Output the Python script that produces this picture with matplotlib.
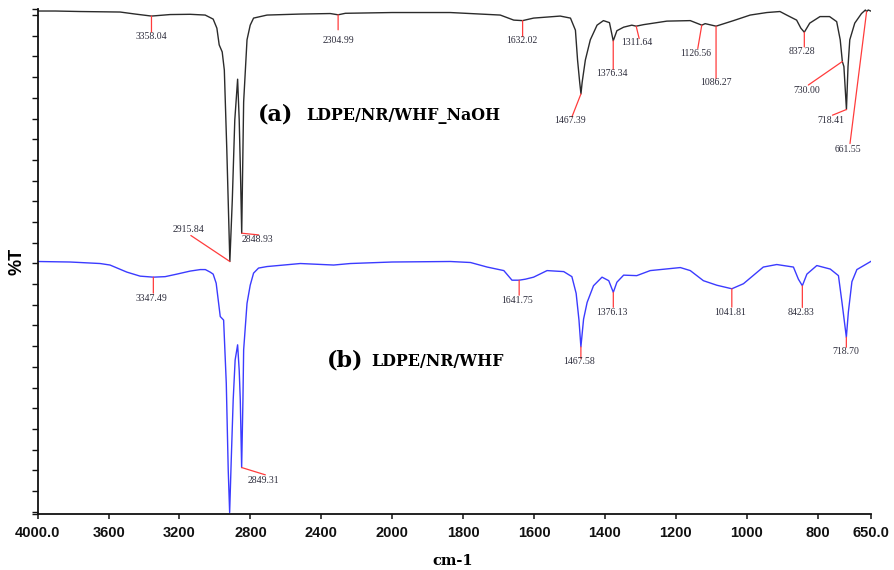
import numpy as np
import matplotlib
matplotlib.use("Agg")
import matplotlib.pyplot as plt

# ---- FTIR spectra (wavenumber in cm-1, transmittance on a stacked %T scale) ----
wn_a = [4000, 3900, 3761, 3535, 3450, 3358.04, 3253, 3140, 3055, 3010, 2989, 2976,
        2959, 2947, 2933, 2915.84, 2902, 2888, 2872, 2863, 2855, 2848.93, 2838, 2819,
        2801, 2782, 2706, 2518, 2349, 2304.99, 2264, 2000, 1836, 1695, 1657, 1632.02,
        1601, 1526, 1497, 1483, 1477, 1471, 1467.39, 1464, 1455, 1441, 1422, 1404,
        1387, 1376.34, 1366, 1347, 1324, 1311.64, 1291, 1225, 1159, 1126.56, 1117,
        1086.27, 1037, 990, 943, 906, 887, 859, 847, 837.28, 822, 793, 766, 746, 736,
        730.00, 725.6, 718.41, 714, 709, 695, 676, 665, 661.55, 657, 650]
t_a = [99.6, 99.6, 99.5, 99.4, 99.0, 98.6, 98.9, 98.95, 98.8, 98.0, 96.2, 92.9,
       91.5, 87.9, 72.1, 50.0, 62.2, 78.0, 86.1, 78.0, 66.1, 55.6, 81.6, 93.9,
       96.8, 98.2, 98.8, 99.0, 99.1, 98.85, 99.15, 99.3, 99.3, 98.8, 97.8, 97.7,
       98.2, 98.6, 98.2, 95.8, 89.9, 85.5, 83.2, 85.5, 89.9, 93.9, 96.8, 97.7,
       97.3, 93.7, 95.7, 96.4, 96.8, 96.6, 96.9, 97.6, 97.7, 96.8, 97.1,
       96.6, 97.7, 98.8, 99.3, 99.5, 98.8, 97.8, 96.2, 95.4, 97.2, 98.5, 98.5, 97.5, 93.9,
       89.6, 88.6, 80.1, 88.6, 93.9, 97.2, 99.1, 99.8, 99.5, 99.8, 99.6]

wn_b = [4000, 3818, 3761, 3648, 3592, 3497, 3422, 3347.49, 3281, 3215, 3140, 3083,
        3054, 3027, 3010, 2993, 2970, 2951, 2936,
        2925, 2917, 2908, 2897, 2886, 2872, 2863, 2857, 2849.31, 2842, 2838, 2819,
        2801, 2782, 2754, 2706, 2612, 2518, 2330, 2236, 2000, 1836, 1779, 1732, 1685,
        1662, 1641.75, 1624, 1601, 1563, 1516, 1493, 1481, 1473, 1467.58, 1460, 1450,
        1432, 1408, 1389, 1376.13, 1366, 1347, 1310, 1272, 1187, 1159, 1122, 1084,
        1041.81, 1009, 953, 915, 868, 854, 842.83, 830, 802, 764, 741, 731, 718.70,
        713, 703, 689, 650]
t_b = [50.0, 49.9, 49.8, 49.6, 49.3, 47.9, 47.1, 46.9, 47.0, 47.5, 48.1, 48.4,
       48.4, 47.9, 47.5, 45.7, 39.1, 38.4, 25.9,
       8.7, 0.3, 10.7, 22.6, 30.5, 33.5, 28.4, 22.6, 9.2, 22.6, 32.5, 41.7,
       45.3, 47.7, 48.7, 49.0, 49.3, 49.6, 49.3, 49.6, 49.9, 50.0, 49.8, 48.9, 48.2,
       46.3, 46.3, 46.5, 46.9, 48.2, 48.0, 47.0, 43.7, 38.4, 33.1, 38.6, 41.9,
       45.2, 46.9, 46.2, 43.9, 45.9, 47.3, 47.2, 48.2, 48.8, 48.2, 46.2, 45.3,
       44.6, 45.6, 48.9, 49.4, 48.9, 46.5, 45.2, 47.5, 49.2, 48.5, 47.2, 41.9, 35.0,
       40.0, 46.0, 48.4, 50.0]

# picked peaks for each spectrum
peaks_a = [3358.04, 2915.84, 2848.93, 2304.99, 1632.02, 1467.39, 1376.34, 1311.64,
           1126.56, 1086.27, 837.28, 730.00, 718.41, 661.55]
peaks_b = [3347.49, 2849.31, 1641.75, 1467.58, 1376.13, 1041.81, 842.83, 718.70]

x_ticks = [4000, 3600, 3200, 2800, 2400, 2000, 1800, 1600, 1400, 1200, 1000, 800, 650]
x_tick_labels = ["4000.0", "3600", "3200", "2800", "2400", "2000", "1800", "1600",
                 "1400", "1200", "1000", "800", "650.0"]

# peak-label layout: (leader dx, dy, text dx, dy) in pixels, dy measured downward
layout_a = [(0, 16, 0, 20), (-39, -26, -41, -31.7), (17, 1.7, 15.4, 6),
            (0, 15, 0, 26), (0, 16, -1, 20), (-9, 23, -10.7, 26.7),
            (0, 28.7, -1, 32.4), (3, 12.4, 0.7, 16.4), (-4, 23.4, -5.7, 28),
            (0, 52.4, -0.3, 56.4), (0, 14.7, -2, 19.3), (-34, 23.5, -35.6, 29.2),
            (-14, 5.7, -16, 11.4), (-16.6, 132, -18.3, 138)]
layout_b = [(0, 16, -1.5, 21), (23.7, 7.3, 21.4, 12.6), (0, 15, -2, 20),
            (0, 11.7, -1.4, 15), (0, 15, -1.3, 20), (0, 18.3, -2, 23.3),
            (0, 21.7, -1.3, 26.7), (0, 10, -1, 14.3)]


# split wavenumber axis: 4000-2000 is drawn at half the scale of 2000-650
def forward(w):
    w = np.asarray(w, dtype=float)
    return np.where(w <= 2000, w, 2000 + (w - 2000) * 0.5)


def inverse(u):
    u = np.asarray(u, dtype=float)
    return np.where(u <= 2000, u, 2000 + (u - 2000) * 2.0)


W, H = 895, 570
fig = plt.figure(figsize=(W / 100, H / 100), dpi=100)
ax = fig.add_axes([37.7 / W, 1 - 514 / H, (870.7 - 37.7) / W, (514 - 9) / H])

ax.set_xscale("function", functions=(forward, inverse))
ax.set_xlim(4000, 650)
ax.set_ylim(0, 100)

ax.plot(wn_a, t_a, color="#2b2b2b", lw=1.0)
ax.plot(wn_b, t_b, color="#3b3bff", lw=1.0)

red = "#ff3c3c"
label_color = "#2d2d3c"


def mark_peaks(wn, t, peaks, layout):
    wn_arr = np.asarray(wn)[::-1]
    t_arr = np.asarray(t)[::-1]
    for p, (ldx, ldy, tdx, tdy) in zip(peaks, layout):
        y = float(np.interp(p, wn_arr, t_arr))
        ax.annotate("", xy=(p, y), xytext=(ldx, -ldy), textcoords="offset pixels",
                    arrowprops=dict(arrowstyle="-", color=red, lw=0.9,
                                    shrinkA=0, shrinkB=0))
        ax.annotate(f"{p:.2f}", xy=(p, y), xytext=(tdx, -tdy),
                    textcoords="offset pixels", ha="center", va="center",
                    fontsize=7, family="Liberation Serif", color=label_color)


mark_peaks(wn_a, t_a, peaks_a, layout_a)
mark_peaks(wn_b, t_b, peaks_b, layout_b)

# axes styling
for side in ("top", "right"):
    ax.spines[side].set_visible(False)
for side in ("left", "bottom"):
    ax.spines[side].set_linewidth(1.3)
    ax.spines[side].set_color("#111111")

ax.set_xticks(x_ticks)
ax.set_xticklabels(x_tick_labels)
ax.xaxis.set_minor_locator(matplotlib.ticker.NullLocator())
ax.tick_params(axis="x", direction="out", length=3.5, width=1.1, pad=5,
               labelsize=10.5, colors="#111111")
for lab in ax.get_xticklabels():
    lab.set_fontfamily("Liberation Sans")
    lab.set_fontweight("bold")

ax.set_yticks(list(np.linspace(0.45, 98.8, 25)) + [0, 100])
ax.yaxis.set_minor_locator(matplotlib.ticker.NullLocator())
ax.tick_params(axis="y", direction="out", length=4, width=1.0, labelleft=False,
               colors="#111111")

# axis titles
fig.text(16.7 / W, 1 - 261.7 / H, "%T", rotation=90, ha="center", va="center",
         fontsize=13, fontweight="bold", family="Liberation Sans")
fig.text(453 / W, 1 - 561 / H, "cm-1", ha="center", va="center",
         fontsize=10.5, fontweight="bold", family="DejaVu Serif")

# sample names
fig.text(258 / W, 1 - 121 / H, "(a)", ha="left", va="baseline",
         fontsize=16, fontweight="bold", family="DejaVu Serif")
fig.text(306 / W, 1 - 120 / H, "LDPE/NR/WHF_NaOH", ha="left", va="baseline",
         fontsize=11.4, fontweight="bold", family="DejaVu Serif")
fig.text(326.7 / W, 1 - 367 / H, "(b)", ha="left", va="baseline",
         fontsize=16, fontweight="bold", family="DejaVu Serif")
fig.text(371.7 / W, 1 - 366 / H, "LDPE/NR/WHF", ha="left", va="baseline",
         fontsize=11.4, fontweight="bold", family="DejaVu Serif")

fig.savefig("out.png", dpi=100)
